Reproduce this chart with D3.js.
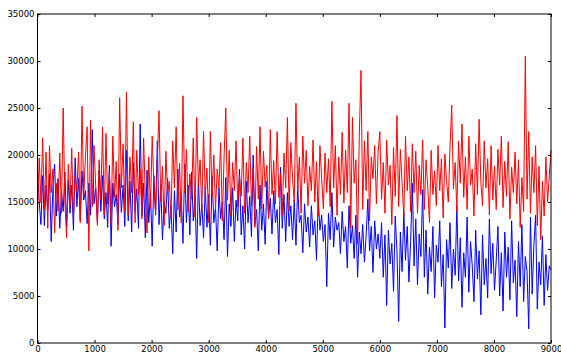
<!DOCTYPE html>
<html>
<head>
<meta charset="utf-8">
<script src="https://cdn.jsdelivr.net/npm/d3@7"></script>
<style>
  body { margin: 0; background: #fff; }
  svg { display: block; }
  .axis text { font-family: "DejaVu Sans", sans-serif; font-size: 8.5px; fill: #000; }
  .axis path { display: none; }
  .axis line { stroke: #000; }
</style>
</head>
<body>
<figure id="line" style="margin:0"></figure>
<script>
// sample spacing along x
const step = 30;
const xTicks = [0, 1000, 2000, 3000, 4000, 5000, 6000, 7000, 8000, 9000];
const yTicks = [0, 5000, 10000, 15000, 20000, 25000, 30000, 35000];

const redValues = [
  13500,19700,15000,21800,14200,20300,12200,21000,16000,18500,
  11700,17000,14000,20200,13800,25000,15000,11200,19000,14500,
  20700,13200,17800,16200,20300,12800,25200,15500,19800,23000,
  9800,23700,14500,21000,16800,12500,19500,15200,23000,13600,
  22300,14800,18200,12600,22000,15500,19300,12000,26100,16500,
  21200,14000,26700,13500,19800,16000,23500,12800,20500,15800,
  18500,13200,21800,15500,11700,19800,14300,22000,16800,13800,
  19300,24700,15000,18800,12500,20400,15800,17200,13300,21500,
  16500,23000,14200,19100,12800,26300,16000,20600,13900,18000,
  15300,21800,13400,24000,16700,19500,14000,22500,15800,18600,
  12800,22500,15500,20000,14200,18500,16500,21300,13000,19800,
  25000,15200,20500,13500,19200,16200,21500,14500,17800,15600,
  21800,13800,19200,16000,22000,14600,18600,12300,20900,15300,
  23000,14300,20400,16600,18900,13200,22700,15800,19400,14800,
  22500,15500,18000,13600,20200,16500,24000,14000,21300,17500,
  15000,25500,16200,19800,13800,22000,17000,20500,14600,18800,
  16200,21600,15000,19300,13500,21000,17500,14300,20200,16000,
  19600,14500,25700,16500,21000,13600,19800,15800,22400,14900,
  20500,16000,25500,12200,24000,17000,19500,10500,22000,29000,
  14200,21500,16200,22500,13000,19800,17500,21000,14800,20300,
  22500,15300,19200,13800,21600,16800,18900,12600,20800,15600,
  24200,14500,20600,17000,13400,22000,16200,19800,14000,21200,
  16000,20400,13800,18900,15800,21600,14200,19500,16600,12800,
  20500,15800,18300,14600,21000,16200,19600,13300,20100,17200,
  15000,20800,25300,16400,19200,14000,21500,17000,23300,15500,
  19800,14200,22000,16800,18500,13500,21200,15800,23800,17200,
  14600,21500,16500,19600,13600,21000,15200,18800,14200,20600,
  16800,22000,14400,19300,15600,21400,13200,18700,16000,20300,
  14800,19500,12300,17600,14000,30500,15300,22500,13800,19800,
  16000,21000,12500,18800,11000,17200,13500,19800,15000,17800,
  20500
];

const blueValues = [
  18500,15000,12600,17800,12500,16800,14200,18000,10800,16500,
  19000,13500,17500,12200,16000,14000,18200,12500,17300,13800,
  16800,12000,19700,14500,17500,13000,18300,15200,16200,12700,
  17000,13600,22700,14800,16500,12800,18400,14000,17800,13200,
  16000,12300,18900,10300,17000,14500,15800,12600,18000,13900,
  16800,12400,20500,13000,17200,11800,19200,14000,16400,12200,
  23300,13500,17000,11200,18400,12800,16000,10300,17800,13600,
  21500,12600,16800,11000,15000,13800,17500,12200,14600,9500,
  16200,11800,18500,13400,15500,10600,19000,12800,16800,11500,
  18200,13000,15600,9000,17400,12500,14800,11200,16600,12300,
  15800,10400,17800,12800,14400,9800,16500,13200,15000,11000,
  17600,9200,14800,12400,16500,10800,15200,13000,18500,11500,
  14600,10000,17200,12800,15600,11300,20000,12600,14200,9800,
  16800,12000,14800,10500,17200,13300,15400,11600,16200,12800,
  14200,9400,18700,12200,15800,10800,16000,12400,14600,11000,
  15200,10400,16800,12800,13600,9600,14800,11800,13400,10200,
  14600,11500,13000,8800,15400,12000,13600,10800,12600,6000,
  13800,11000,16000,10200,13400,12000,12800,9500,14000,10800,
  12400,8000,14600,10600,12500,9000,13600,7000,11800,9500,
  12600,8600,11400,15300,9800,12400,7500,13000,10000,11600,
  9000,12800,7000,11500,4000,12000,8400,10600,5500,13500,
  9800,2300,11800,7600,14000,8800,12400,6500,10800,17000,
  8200,13200,6200,11600,9200,16300,7000,12000,5200,10200,
  7600,12400,4800,10400,8600,13000,6000,9400,1600,11000,
  8000,12800,5800,10000,7200,14600,6600,11200,3800,9600,
  7000,13400,5400,10800,8200,4400,12000,6800,9800,3000,
  11500,6200,9000,4800,13200,7400,10600,5600,8800,12400,
  5000,9600,3400,11800,7000,10200,4600,13000,6400,8800,
  2800,10800,6000,12600,4400,9200,7600,1500,13400,5200,
  10400,13600,3600,8600,6200,11400,4000,9400,5600,8200,
  7800
];

const xValues = d3.range(redValues.length).map(i => i * step);

const width = 561, height = 354;
const margin = { left: 37.5, right: 551, top: 14, bottom: 343 };

const svg = d3.select('figure#line')
  .append('svg')
  .attr('width', width)
  .attr('height', height);

const x = d3.scaleLinear().domain([0, 9000]).range([margin.left, margin.right]);
const y = d3.scaleLinear().domain([0, 35000]).range([margin.bottom, margin.top]);

const line = d3.line()
  .x((d, i) => x(xValues[i]))
  .y(d => y(d));

svg.append('path')
  .datum(blueValues)
  .attr('fill', 'none')
  .attr('stroke', '#0000ff')
  .attr('stroke-width', 1)
  .attr('d', line);

svg.append('path')
  .datum(redValues)
  .attr('fill', 'none')
  .attr('stroke', '#ff0000')
  .attr('stroke-width', 1)
  .attr('d', line);

// axes, ticks point inward like matplotlib classic
svg.append('g').attr('class', 'axis')
  .attr('transform', 'translate(0,' + margin.bottom + ')')
  .call(d3.axisBottom(x).tickValues(xTicks).tickSize(-3).tickPadding(3).tickFormat(d3.format('d')));

svg.append('g').attr('class', 'axis')
  .attr('transform', 'translate(0,' + margin.top + ')')
  .call(d3.axisTop(x).tickValues(xTicks).tickSize(-3).tickFormat(''));

svg.append('g').attr('class', 'axis')
  .attr('transform', 'translate(' + margin.left + ',0)')
  .call(d3.axisLeft(y).tickValues(yTicks).tickSize(-3).tickPadding(3).tickFormat(d3.format('d')));

svg.append('g').attr('class', 'axis')
  .attr('transform', 'translate(' + margin.right + ',0)')
  .call(d3.axisRight(y).tickValues(yTicks).tickSize(-3).tickFormat(''));

svg.append('rect')
  .attr('x', margin.left)
  .attr('y', margin.top)
  .attr('width', margin.right - margin.left)
  .attr('height', margin.bottom - margin.top)
  .attr('fill', 'none')
  .attr('stroke', '#000')
  .attr('stroke-width', 1);
</script>
</body>
</html>
